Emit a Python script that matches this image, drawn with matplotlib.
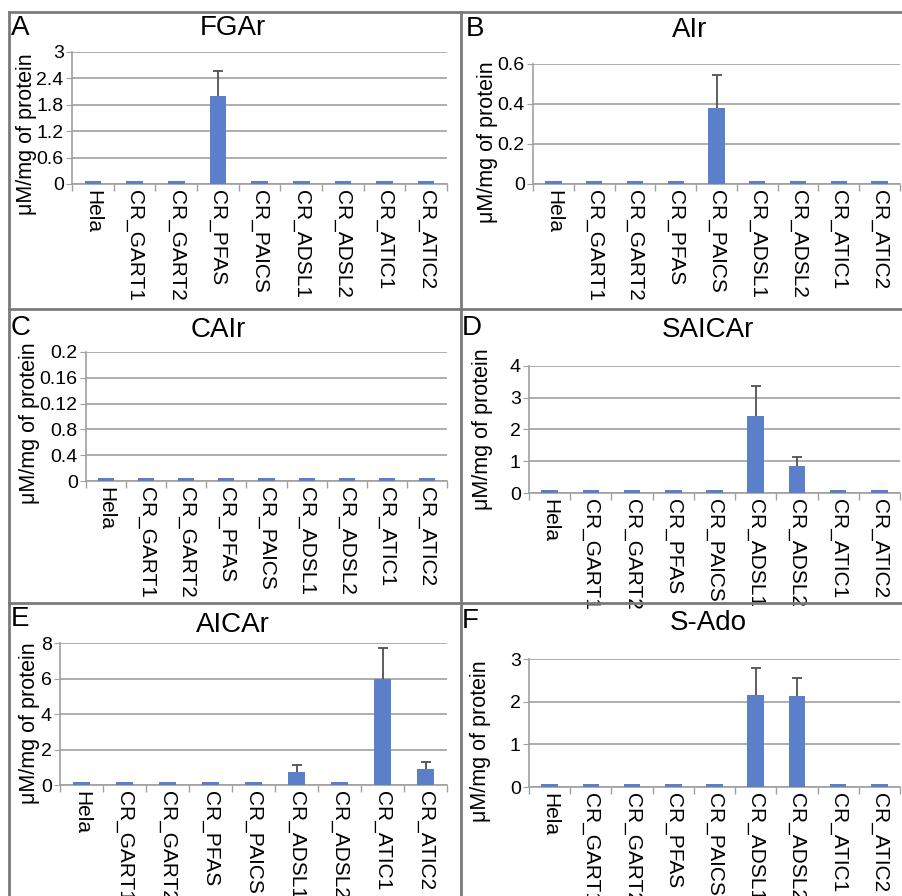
import numpy as np
import matplotlib
matplotlib.use('Agg')
import matplotlib.pyplot as plt
from matplotlib.lines import Line2D

plt.rcParams['font.family'] = ['Liberation Sans', 'DejaVu Sans']

cells = ['Hela', 'CR_GART1', 'CR_GART2', 'CR_PFAS', 'CR_PAICS',
         'CR_ADSL1', 'CR_ADSL2', 'CR_ATIC1', 'CR_ATIC2']

# mean values and upper error (uM/mg protein); near-zero groups are tiny bars
fgar = [0.07, 0.07, 0.07, 2.0, 0.07, 0.07, 0.07, 0.07, 0.07]
fgar_err = [0, 0, 0, 0.57, 0, 0, 0, 0, 0]
air = [0.015, 0.015, 0.015, 0.015, 0.38, 0.015, 0.015, 0.015, 0.015]
air_err = [0, 0, 0, 0, 0.165, 0, 0, 0, 0]
cair = [0.005] * 9
cair_err = [0] * 9
saicar = [0.09, 0.09, 0.09, 0.09, 0.09, 2.42, 0.84, 0.09, 0.09]
saicar_err = [0, 0, 0, 0, 0, 0.95, 0.28, 0, 0]
aicar = [0.17, 0.17, 0.17, 0.17, 0.17, 0.75, 0.17, 6.0, 0.9]
aicar_err = [0, 0, 0, 0, 0, 0.35, 0, 1.7, 0.4]
sado = [0.07, 0.07, 0.07, 0.07, 0.07, 2.15, 2.13, 0.07, 0.07]
sado_err = [0, 0, 0, 0, 0, 0.65, 0.42, 0, 0]

ticks_A = [0, 0.6, 1.2, 1.8, 2.4, 3]
ticks_B = [0, 0.2, 0.4, 0.6]
ticks_C = [0, 0.04, 0.08, 0.12, 0.16, 0.2]
labels_C = ['0', '0.4', '0.8', '0.12', '0.16', '0.2']
ticks_D = [0, 1, 2, 3, 4]
ticks_E = [0, 2, 4, 6, 8]
ticks_F = [0, 1, 2, 3]

W, H = 902, 896
fig = plt.figure(figsize=(W / 100, H / 100), dpi=100)

blue = '#5B7FC8'
grid = '#A0A0A0'


def fx(x):
    return x / W


def fy(y):
    return 1 - y / H


panels = [
    # letter, title, vals, err, ticks, labels, box(l, r, top, bottom), title xy, letter xy, ylabel xy
    ('A', 'FGAr', fgar, fgar_err, ticks_A, None, (72, 447, 52, 184), (233, 35), (11, 35), (27, 134)),
    ('B', 'AIr', air, air_err, ticks_B, None, (533, 900, 64, 184), (690, 37), (466, 36), (488, 142)),
    ('C', 'CAIr', cair, cair_err, ticks_C, labels_C, (86, 447, 352, 481), (218, 337), (11, 335), (30, 423)),
    ('D', 'SAICAr', saicar, saicar_err, ticks_D, None, (529, 900, 366, 493), (708, 337), (462, 335), (482, 429)),
    ('E', 'AICAr', aicar, aicar_err, ticks_E, None, (60, 447, 643, 785), (233, 632), (11, 626), (30, 723)),
    ('F', 'S-Ado', sado, sado_err, ticks_F, None, (529, 900, 659, 787), (708, 630), (462, 628), (481, 741)),
]

x = np.arange(len(cells))
for letter, title, vals, err, ticks, tlabels, box, tpos, lpos, ypos in panels:
    l, r, t, b = box
    ax = fig.add_axes([fx(l), fy(b), fx(r) - fx(l), fy(t) - fy(b)])
    ax.bar(x, vals, width=0.4, color=blue, zorder=3)
    v = np.array(vals)
    e = np.array(err)
    m = e > 0
    ax.vlines(x[m], v[m], v[m] + e[m], color='#505050', linewidth=1.3, zorder=4)
    ax.plot(x[m], v[m] + e[m], linestyle='none', marker='_', markersize=7,
            markeredgewidth=1.3, color='#505050', zorder=4)
    ax.set_xlim(-0.5, len(cells) - 0.5)
    ax.set_ylim(0, ticks[-1])
    ax.set_yticks(ticks)
    ax.set_yticklabels(tlabels if tlabels else ['%g' % tv for tv in ticks])
    ax.set_xticks(x)
    ax.set_xticklabels(cells, rotation=270, fontsize=15)
    ax.set_xticks(np.arange(-0.5, len(cells)), minor=True)
    ax.tick_params(axis='x', which='major', length=0, pad=4)
    ax.tick_params(axis='x', which='minor', length=5, color=grid, width=1)
    ax.tick_params(axis='y', length=4, color=grid, labelsize=14, pad=2)
    ax.yaxis.grid(True, color=grid, linewidth=1.2, zorder=0)
    ax.set_axisbelow(True)
    for s in ['top', 'right']:
        ax.spines[s].set_visible(False)
    for s in ['left', 'bottom']:
        ax.spines[s].set_color(grid)
        ax.spines[s].set_linewidth(1.2)
    fig.text(fx(tpos[0]), fy(tpos[1]), title, fontsize=20, ha='center', va='baseline')
    fig.text(fx(lpos[0]), fy(lpos[1]), letter, fontsize=20, ha='left', va='baseline')
    fig.text(fx(ypos[0]), fy(ypos[1]), u'\u03bcM/mg of protein', fontsize=15.5,
             rotation=90, ha='center', va='center')

# panel borders
border = '#7A7A7A'
for (x0, y0, x1, y1) in [(9, 12, 902, 12), (9, 12, 9, 896), (461, 12, 461, 896),
                         (9, 309, 902, 309), (9, 603, 902, 603)]:
    fig.add_artist(Line2D([fx(x0), fx(x1)], [fy(y0), fy(y1)], color=border, linewidth=2))

plt.savefig('out.png', dpi=100)
